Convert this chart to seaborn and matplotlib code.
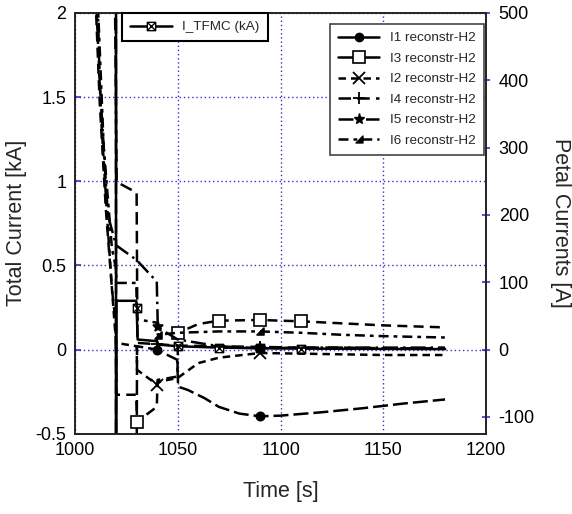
import matplotlib
matplotlib.use("Agg")
import matplotlib.pyplot as plt
from matplotlib.path import Path
from matplotlib.lines import Line2D
import seaborn as sns

# ---------------- data ----------------
# I_TFMC total current (kA, left axis)
t_tfmc = [1000, 1019.9, 1020.0, 1020.1, 1029.8, 1030.0, 1030.5, 1040, 1040.5, 1050, 1070, 1090, 1110, 1130, 1150, 1180]
v_tfmc = [30, 30, -1.0, 0.29, 0.29, 0.25, 0.06, 0.05, 0.03, 0.02, 0.012, 0.008, 0.006, 0.005, 0.004, 0.003]
mk_tfmc = [5, 9, 10, 11, 12]

# petal currents (A, right axis)
t_i1 = [1000, 1019.9, 1020.0, 1029.8, 1030.2, 1040, 1041, 1049.7, 1050.2, 1055, 1063, 1070, 1080, 1090, 1100, 1120, 1140, 1160, 1180]
v_i1 = [1500, 1500, -400, -400, 5, 0, -2, -15, -55, -60, -72, -85, -95, -99, -98, -93, -87, -80, -74]
mk_i1 = [5, 13]

t_i3 = [1005, 1009, 1012, 1015, 1018, 1019.8, 1020.2, 1029.8, 1030.2, 1039.8, 1040.2, 1049.8, 1050.2, 1060, 1070, 1090, 1110, 1130, 1150, 1180]
v_i3 = [1200, 600, 370, 210, 90, 40, -67, -67, -107, -85, -45, -40, 25, 38, 43, 44, 42, 39, 36, 33]
mk_i3 = [8, 12, 14, 15, 16]

t_i2 = [1005, 1010, 1013, 1016, 1018, 1020, 1030, 1030.2, 1040, 1040.3, 1050, 1060, 1070, 1090, 1110, 1130, 1150, 1180]
v_i2 = [1000, 540, 330, 180, 90, 10, 5, -30, -52, -48, -42, -20, -12, -5, -6, -7, -8, -8]
mk_i2 = [8, 13]

t_i4 = [1015, 1020.3, 1030, 1030.4, 1040, 1050, 1070, 1090, 1110, 1130, 1150, 1180]
v_i4 = [2000, 249, 233, 10, 8, 6, 5, 4, 3, 3, 2, 2]
mk_i4 = [4, 7]

t_i5 = [1008, 1012, 1016, 1020, 1030, 1039.8, 1040.3, 1050, 1070, 1090, 1110, 1130, 1150, 1180]
v_i5 = [900, 400, 200, 155, 133, 101, 33, 15, 5, 2, 3, 3, 3, 3]
mk_i5 = [6, 9]

t_i6 = [1006, 1010, 1014, 1018, 1020, 1020.3, 1029.8, 1030.3, 1039.8, 1040.3, 1050, 1070, 1090, 1110, 1130, 1150, 1180]
v_i6 = [1100, 600, 300, 150, 120, 99, 99, 45, 40, 22, 25, 27, 27, 25, 22, 20, 18]
mk_i6 = [9, 12]

legend_petal = ["I1 reconstr-H2", "I3 reconstr-H2", "I2 reconstr-H2",
                "I4 reconstr-H2", "I5 reconstr-H2", "I6 reconstr-H2"]
legend_total = "I_TFMC (kA)"

x_ticks = [1000, 1050, 1100, 1150, 1200]
yl_ticks = [-0.5, 0, 0.5, 1, 1.5, 2]
yl_labels = ["-0.5", "0", "0.5", "1", "1.5", "2"]
yr_ticks = [-100, 0, 100, 200, 300, 400, 500]

# ---------------- style ----------------
sns.set_theme(style="white")
plt.rcParams['font.family'] = ['Liberation Sans', 'DejaVu Sans']

BLUE = '#3333cc'
LW = 1.8

boxx = Path([(-1, -1), (1, -1), (1, 1), (-1, 1), (-1, -1), (-1, -1), (1, 1), (-1, 1), (1, -1)],
            [Path.MOVETO, Path.LINETO, Path.LINETO, Path.LINETO, Path.CLOSEPOLY,
             Path.MOVETO, Path.LINETO, Path.MOVETO, Path.LINETO])
rtri = Path([(1, -1), (1, 1), (-1, -1), (1, -1)],
            [Path.MOVETO, Path.LINETO, Path.LINETO, Path.CLOSEPOLY])

ls_i1 = (0, (6, 2))
ls_i3 = (0, (4, 2.5))
ls_i2 = (0, (3, 2))
ls_i4 = (0, (5, 2.5))
ls_i5 = (0, (6, 2, 1, 2))
ls_i6 = (0, (4, 2, 1.5, 2))

fig = plt.figure(figsize=(5.72, 5.14), dpi=100)
ax = fig.add_axes([0.131, 0.156, 0.719, 0.819])
ax2 = ax.twinx()


def draw(axis, t, v, ls, marker, mk, ms, mfc='black', mew=1.2):
    sns.lineplot(x=t, y=v, ax=axis, estimator=None, sort=False, color='black',
                 lw=LW, linestyle=ls, marker=marker, markevery=mk, markersize=ms,
                 markerfacecolor=mfc, markeredgecolor='black', markeredgewidth=mew,
                 legend=False)


draw(ax, t_tfmc, v_tfmc, '-', boxx, mk_tfmc, 6, mfc='white', mew=1.0)
draw(ax2, t_i1, v_i1, ls_i1, 'o', mk_i1, 6)
draw(ax2, t_i3, v_i3, ls_i3, 's', mk_i3, 8.5, mfc='white', mew=1.2)
draw(ax2, t_i2, v_i2, ls_i2, 'x', mk_i2, 9, mew=1.3)
draw(ax2, t_i4, v_i4, ls_i4, '+', mk_i4, 9, mew=1.3)
draw(ax2, t_i5, v_i5, ls_i5, '*', mk_i5, 8)
draw(ax2, t_i6, v_i6, ls_i6, rtri, mk_i6, 5)

# axes
ax.set_xlim(1000, 1200)
ax.set_ylim(-0.5, 2)
ax2.set_ylim(-125, 500)
ax.set_xticks(x_ticks)
ax.set_xticklabels([str(x) for x in x_ticks])
ax.set_yticks(yl_ticks)
ax.set_yticklabels(yl_labels)
ax2.set_yticks(yr_ticks)
ax2.set_yticklabels([str(y) for y in yr_ticks])

ax.grid(True, color=BLUE, linestyle=(0, (1, 2)), lw=1.0)
ax2.grid(False)
for a in (ax, ax2):
    for s in a.spines.values():
        s.set_color('#222222')
        s.set_linewidth(1.2)
ax.tick_params(axis='both', direction='in', color=BLUE, length=4, width=1.2,
               labelsize=13, labelcolor='black', pad=6)
ax2.tick_params(axis='y', direction='inout', color=BLUE, length=6, width=1.2,
                labelsize=13, labelcolor='black', pad=6)

ax.set_xlabel("Time [s]", fontsize=15.5, labelpad=16)
ax.set_ylabel("Total Current [kA]", fontsize=15.5, labelpad=6)
ax2.set_ylabel("Petal Currents [A]", fontsize=15.5, rotation=270, labelpad=26)

# legends
h_tot = [Line2D([], [], color='black', lw=LW, linestyle='-', marker=boxx, markersize=6,
                markerfacecolor='white', markeredgecolor='black', markeredgewidth=1.0)]
leg1 = ax2.legend(h_tot, [legend_total], loc='upper left', bbox_to_anchor=(0.114, 1.0),
                  borderaxespad=0, fontsize=9.7, handlelength=3.1, frameon=True,
                  fancybox=False, edgecolor='black', framealpha=1, borderpad=0.6)
leg1.get_frame().set_linewidth(1.5)
ax2.add_artist(leg1)

h_pet = [
    Line2D([], [], color='black', lw=LW, linestyle='-', marker='o', markersize=6,
           markerfacecolor='black', markeredgecolor='black'),
    Line2D([], [], color='black', lw=LW, linestyle='-', marker='s', markersize=8.5,
           markerfacecolor='white', markeredgecolor='black', markeredgewidth=1.2),
    Line2D([], [], color='black', lw=LW, linestyle=ls_i2, marker='x', markersize=9,
           markeredgecolor='black', markeredgewidth=1.3),
    Line2D([], [], color='black', lw=LW, linestyle=ls_i4, marker='+', markersize=9,
           markeredgecolor='black', markeredgewidth=1.3),
    Line2D([], [], color='black', lw=LW, linestyle=ls_i5, marker='*', markersize=8,
           markerfacecolor='black', markeredgecolor='black'),
    Line2D([], [], color='black', lw=LW, linestyle=ls_i6, marker=rtri, markersize=5,
           markerfacecolor='black', markeredgecolor='black'),
]
leg2 = ax2.legend(h_pet, legend_petal, loc='upper right', bbox_to_anchor=(0.995, 0.974),
                  borderaxespad=0, fontsize=9.7, handlelength=3.1, labelspacing=0.6,
                  frameon=True, fancybox=False, edgecolor='#444444', framealpha=1,
                  borderpad=0.6)
leg2.get_frame().set_linewidth(1.2)

fig.savefig("out.png", dpi=100)
